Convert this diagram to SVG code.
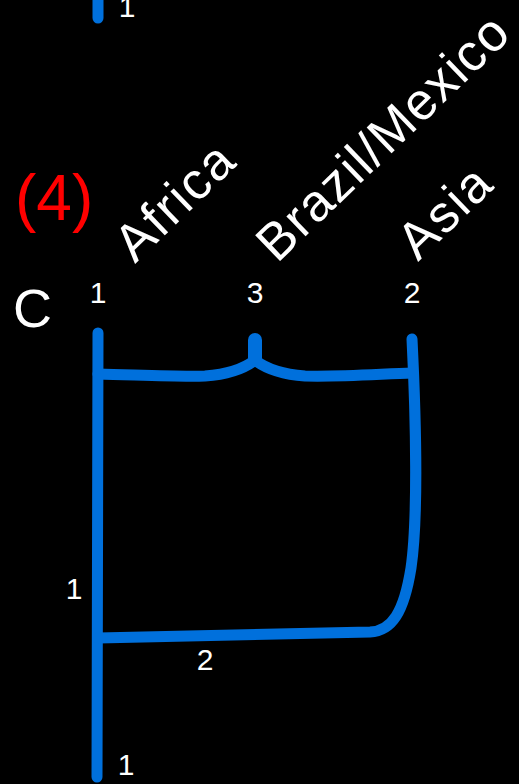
<svg xmlns="http://www.w3.org/2000/svg" width="519" height="784" viewBox="0 0 519 784">
<style>
.ln{fill:none;stroke:#0070DC;stroke-width:11;stroke-linecap:round;stroke-linejoin:round}
.num{font-family:"Liberation Sans",Arial,sans-serif;font-size:30px;fill:#fff;text-anchor:middle}
.lab{font-family:"Liberation Sans",Arial,sans-serif;font-size:52px;fill:#fff;letter-spacing:2px}
</style>
<rect width="519" height="784" fill="#000"/>
<g id="title">
<text x="15" y="220" font-family="Liberation Sans, Arial, sans-serif" font-size="64" fill="#FF0000">(4)</text>
<text x="13" y="327" font-family="Liberation Sans, Arial, sans-serif" font-size="54" fill="#fff">C</text>
</g>
<g id="labels">
<text class="lab" transform="translate(135,264) rotate(-44)">Africa</text>
<text class="lab" transform="translate(277,264) rotate(-44)" style="letter-spacing:1.5px">Brazil/Mexico</text>
<text class="lab" transform="translate(418,262) rotate(-44)">Asia</text>
</g>
<g id="connectors">
<path class="ln" d="M98,-10 L98,18"/>
<path class="ln" d="M98,333 L97,777"/>
<path class="ln" d="M98,374 C140,375 180,377 205,376 C230,374 245,368 255,360"/>
<path class="ln" d="M255,360 C265,368 280,374 305,376 C340,377 380,374 412,373"/>
<path class="ln" d="M255,340 L255,358" style="stroke-width:14"/>
<path class="ln" d="M412,339 C416,420 418,520 411,568 C404,612 392,631 370,632 L98,638"/>
</g>
<g id="numbers">
<text class="num" x="127" y="17">1</text>
<text class="num" x="98" y="303">1</text>
<text class="num" x="255" y="303">3</text>
<text class="num" x="412" y="303">2</text>
<text class="num" x="74" y="599">1</text>
<text class="num" x="205" y="670">2</text>
<text class="num" x="126" y="775">1</text>
</g>
</svg>
